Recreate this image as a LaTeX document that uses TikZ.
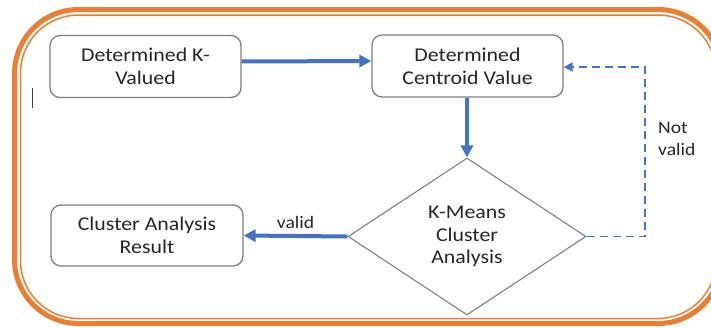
\documentclass[tikz,border=0pt]{standalone}
\usepackage{fontspec}
\setmainfont{Carlito}[FakeStretch=1.12]
\usetikzlibrary{arrows.meta,shapes.geometric}
\definecolor{frameor}{HTML}{ED7D31}
\definecolor{flowblue}{HTML}{4472C4}
\definecolor{boxgray}{HTML}{7F7F7F}
\definecolor{txt}{HTML}{262626}
\tikzset{
  procbox/.style={draw=boxgray, line width=1.3pt, rounded corners=10pt, fill=white,
    minimum width=191pt, minimum height=62pt, inner sep=2pt, align=center,
    text=txt, font=\fontsize{19.5}{23}\selectfont},
  decision/.style={draw=boxgray, line width=1.1pt, diamond, aspect=1.516,
    minimum width=238pt, minimum height=157pt, inner sep=0pt, align=center,
    text=txt, font=\fontsize{19.5}{22.5}\selectfont},
  flow/.style={draw=flowblue, line width=4pt, -{Triangle[length=12pt,width=12pt]}},
  loopback/.style={draw=flowblue, line width=1.8pt, dash pattern=on 8pt off 5pt,
    -{Triangle[length=9pt,width=9pt]}},
  lbl/.style={text=txt, font=\fontsize{17.5}{22.5}\selectfont, inner sep=0pt}
}
\begin{document}
\begin{tikzpicture}[x=1pt,y=-1pt]
\useasboundingbox (0,0) rectangle (711,327);
% orange frame (double line)
\draw[frameor, line width=5pt, rounded corners=64pt] (14.5,9.5) rectangle (722,323.5);
\draw[frameor, line width=1.5pt, rounded corners=58pt] (20.5,15) rectangle (716,318.5);
% cursor mark
\draw[black!75, line width=1pt] (32,88) -- (32,108);
% nodes
\node[procbox] (kval) at (145.5,66.5) {Determined K-\\Valued};
\node[procbox] (cent) at (467.5,66) {Determined\\Centroid Value};
\node[procbox, minimum width=192pt, minimum height=61pt] (res) at (147,235.5) {Cluster Analysis\\Result};
\node[decision] (km) at (467,236.5) {K-Means\\Cluster\\Analysis};
\coordinate (loopc) at (645,67);
% connectors
\draw[flow] ([yshift=5pt]kval.east) -- ([yshift=5pt]cent.west);
\draw[flow] (km.north |- cent.south) -- (km.north);
\draw[flow] (km.west) -- (res.east) node[lbl, midway, above=5pt] {valid};
\draw[loopback] (km.east) -| (loopc) -- (cent.east |- loopc);
\node[lbl, anchor=west, align=left] (nv) at (658,139) {Not\\valid};
\end{tikzpicture}
\end{document}
